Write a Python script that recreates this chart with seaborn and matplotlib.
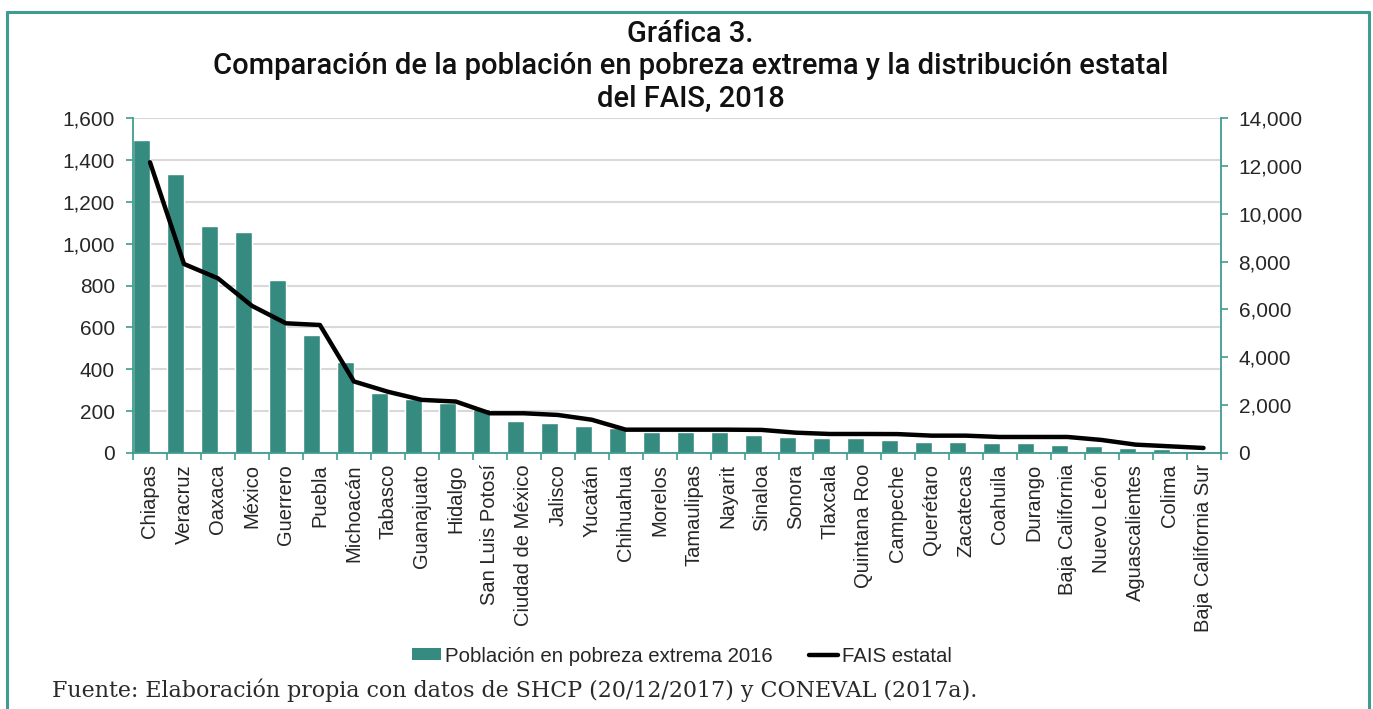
import matplotlib
matplotlib.use("Agg")
import matplotlib.pyplot as plt
from matplotlib.lines import Line2D
from matplotlib.patches import Patch
from matplotlib.ticker import FuncFormatter, MultipleLocator
import numpy as np
import pandas as pd
import seaborn as sns

# Entidades federativas, ordenadas por población en pobreza extrema
estados = ["Chiapas", "Veracruz", "Oaxaca", "México", "Guerrero", "Puebla",
           "Michoacán", "Tabasco", "Guanajuato", "Hidalgo", "San Luis Potosí",
           "Ciudad de México", "Jalisco", "Yucatán", "Chihuahua", "Morelos",
           "Tamaulipas", "Nayarit", "Sinaloa", "Sonora", "Tlaxcala",
           "Quintana Roo", "Campeche", "Querétaro", "Zacatecas", "Coahuila",
           "Durango", "Baja California", "Nuevo León", "Aguascalientes",
           "Colima", "Baja California Sur"]

# Población en pobreza extrema 2016 (miles de personas, eje izquierdo)
pobreza = [1494, 1332, 1085, 1055, 824, 563, 435, 288, 259, 237, 212, 153,
           145, 130, 118, 100, 100, 100, 86, 78, 70, 70, 62, 54, 54, 48, 48,
           40, 33, 25, 18, 11]

# FAIS estatal (millones de pesos, eje derecho)
fais = [12150, 7900, 7300, 6150, 5420, 5350, 2990, 2560, 2220, 2150, 1660,
        1660, 1590, 1390, 975, 975, 975, 975, 965, 850, 795, 795, 790, 725,
        725, 670, 670, 670, 545, 350, 280, 210]

serie_barras = "Población en pobreza extrema 2016"
serie_linea = "FAIS estatal"

titulo = "Gráfica 3.\nComparación de la población en pobreza extrema y la distribución estatal\ndel FAIS, 2018"
fuente = "Fuente: Elaboración propia con datos de SHCP (20/12/2017) y CONEVAL (2017a)."

verde = "#368B80"
marco = "#3F9C91"
rejilla = "#D9D9D9"

sns.set_style("white")
plt.rcParams["font.family"] = ["Liberation Sans", "DejaVu Sans"]

df = pd.DataFrame({"estado": estados, "valor": pobreza, "serie": serie_barras})

fig = plt.figure(figsize=(13.73, 7.09), dpi=100)
ax = fig.add_axes([133 / 1373, 1 - 453 / 709, (1220.5 - 133) / 1373, (453 - 118) / 709])

# Las barras ocupan la mitad izquierda de cada categoría; la línea va al centro
sns.barplot(data=df, x="estado", y="valor", hue="serie",
            hue_order=[serie_barras, "_espacio"],
            palette={serie_barras: verde, "_espacio": "white"},
            saturation=1, width=1.0, dodge=True, legend=False, ax=ax, zorder=2)

ax.set_xlim(-0.5, len(estados) - 0.5)
ax.set_ylim(0, 1600)
ax.yaxis.set_major_locator(MultipleLocator(200))
ax.yaxis.set_major_formatter(FuncFormatter(lambda v, p: f"{int(v):,}"))
ax.set_xlabel("")
ax.set_ylabel("")
ax.grid(axis="y", color=rejilla, linewidth=1.5, zorder=0)
ax.set_axisbelow(True)

for lado in ["top", "right"]:
    ax.spines[lado].set_visible(False)
for lado in ["left", "bottom"]:
    ax.spines[lado].set_color(marco)
    ax.spines[lado].set_linewidth(1.3)

ax.tick_params(axis="y", which="major", direction="out", length=5, width=1.2,
               color=marco, labelsize=15, pad=8, left=True)
ax.set_xticks(range(len(estados)))
ax.set_xticklabels(estados, rotation=90)
ax.set_xticks(np.arange(-0.5, len(estados), 1.0), minor=True)
ax.tick_params(axis="x", which="major", length=0, labelsize=14.5, pad=8)
ax.tick_params(axis="x", which="minor", direction="out", length=5, width=1.2,
               color=marco, bottom=True)

ax2 = ax.twinx()
sns.lineplot(x=np.arange(len(estados)), y=fais, color="black", linewidth=3.2,
             ax=ax2, zorder=3)
ax2.set_ylim(0, 14000)
ax2.yaxis.set_major_locator(MultipleLocator(2000))
ax2.yaxis.set_major_formatter(FuncFormatter(lambda v, p: f"{int(v):,}"))
ax2.set_ylabel("")
for lado in ["top", "left", "bottom"]:
    ax2.spines[lado].set_visible(False)
ax2.spines["right"].set_color(marco)
ax2.spines["right"].set_linewidth(1.3)
ax2.tick_params(axis="y", direction="out", length=5, width=1.2, color=marco,
                labelsize=15, pad=8, right=True)
ax2.grid(False)

fig.text(0.503, 1 - 20 / 709, titulo, ha="center", va="top",
         fontsize=21, fontweight="medium", linespacing=1.2,
         family=["Roboto", "Liberation Sans"], color="#111111")

handles = [Patch(facecolor=verde, edgecolor="none"),
           Line2D([0], [0], color="black", linewidth=3.2)]
fig.legend(handles, [serie_barras, serie_linea], loc="center",
           bbox_to_anchor=(682 / 1373, 1 - 656 / 709), ncol=2, frameon=False,
           fontsize=14.7, handlelength=1.4, handleheight=0.55,
           handletextpad=0.2, columnspacing=1.8, borderaxespad=0)

fig.text(52 / 1373, 1 - 690 / 709, fuente, ha="left", va="center",
         fontsize=15.9, family=["DejaVu Serif"], color="#2a2a2a")

# Marco exterior de la gráfica
for xs, ys in [([7, 7], [12, 709]), ([7, 1369], [12, 12]), ([1369, 1369], [12, 709])]:
    fig.add_artist(Line2D([x / 1373 for x in xs], [1 - y / 709 for y in ys],
                          color=marco, linewidth=2.2))

fig.savefig("out.png", dpi=100)
